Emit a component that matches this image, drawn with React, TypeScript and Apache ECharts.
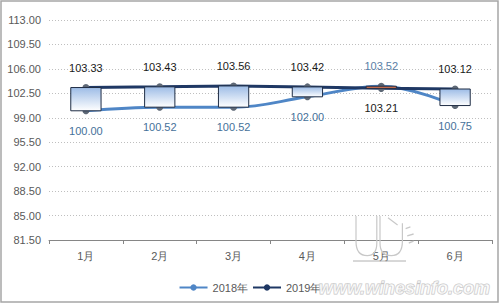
import React, { useEffect, useRef } from "react";
import * as echarts from "echarts";

const categories = ["1月", "2月", "3月", "4月", "5月", "6月"];
const values2018 = [100.0, 100.52, 100.52, 102.0, 103.52, 100.75];
const values2019 = [103.33, 103.43, 103.56, 103.42, 103.21, 103.12];
const seriesNames = ["2018年", "2019年"];
const yMin = 81.5;
const yMax = 113;
const yStep = 3.5;

let shapeRegistered = false;
function registerLogo() {
  if (shapeRegistered) return;
  shapeRegistered = true;
  echarts.graphic.registerShape(
    "wineLogo",
    echarts.graphic.extendPath(
      "M0,0 L0,28 Q0,44 14,44 Q26,44 26,30 L26,0 M30,0 L30,30 Q30,44 44,44 Q58,44 58,28 L58,8 M40,2 L52,10 M62,14 L68,12 M64,22 L72,20 M66,30 L72,28",
      {}
    )
  );
}

export default function App() {
  const ref = useRef<HTMLDivElement>(null);
  useEffect(() => {
    if (!ref.current) return;
    registerLogo();
    const chart = echarts.init(ref.current, null, { renderer: "svg" });
    const boxData = categories.map((_, i) => [i, values2018[i], values2019[i]]);
    const upFill = new echarts.graphic.LinearGradient(0, 0, 0, 1, [
      { offset: 0, color: "#9dbce6" },
      { offset: 1, color: "#ffffff" },
    ]);
    const markerColor = "#5e6876";
    const option: any = {
      animation: false,
      textStyle: { fontFamily: "Liberation Sans, Arial, sans-serif" },
      grid: { left: 49, right: 8, top: 20, bottom: 64 },
      legend: {
        data: seriesNames,
        left: "center",
        top: 277,
        itemGap: 4,
        itemWidth: 28,
        itemHeight: 8,
        textStyle: { fontSize: 11, color: "#595959" },
      },
      xAxis: {
        type: "category",
        data: categories,
        boundaryGap: true,
        axisLine: { lineStyle: { color: "#868686", width: 1 } },
        axisTick: { show: true, length: 4, lineStyle: { color: "#868686" } },
        axisLabel: { fontSize: 11, color: "#595959", margin: 10 },
      },
      yAxis: {
        type: "value",
        min: yMin,
        max: yMax,
        interval: yStep,
        axisLine: { show: false },
        axisTick: { show: false },
        axisLabel: {
          fontSize: 11,
          color: "#595959",
          margin: 8,
          formatter: (v: number) => v.toFixed(2),
        },
        splitLine: { lineStyle: { color: "#bfbfbf", type: [1, 2], width: 1 } },
      },
      series: [
        {
          name: seriesNames[0],
          type: "line",
          smooth: 0.4,
          z: 2,
          symbol: "circle",
          symbolSize: 7,
          lineStyle: { color: "#4f86c6", width: 3 },
          itemStyle: { color: "#4f86c6" },
          data: values2018.map((v, i) => ({
            value: v,
            itemStyle: { color: markerColor },
            label: {
              show: true,
              position: i === 4 ? "top" : "bottom",
              distance: 11,
              color: i === 4 ? "#5a80a6" : "#46719a",
              fontSize: 11,
              formatter: (p: any) => Number(p.value).toFixed(2),
            },
          })),
        },
        {
          name: seriesNames[1],
          type: "line",
          z: 2,
          symbol: "circle",
          symbolSize: 7,
          lineStyle: { color: "#1f3864", width: 3 },
          itemStyle: { color: "#1f3864" },
          data: values2019.map((v, i) => ({
            value: v,
            itemStyle: { color: markerColor },
            label: {
              show: true,
              position: i === 4 ? "bottom" : "top",
              distance: 11,
              color: "#1a1a1a",
              fontSize: 11,
              formatter: (p: any) => Number(p.value).toFixed(2),
            },
          })),
        },
        {
          name: "updown",
          type: "custom",
          z: 5,
          encode: { x: 0, y: [1, 2] },
          data: boxData,
          renderItem: (params: any, api: any) => {
            const i = api.value(0);
            const a = api.value(1);
            const b = api.value(2);
            const top = api.coord([i, Math.max(a, b)]);
            const bot = api.coord([i, Math.min(a, b)]);
            const w = api.size([1, 0])[0] * 0.41;
            return {
              type: "rect",
              shape: {
                x: top[0] - w / 2,
                y: top[1],
                width: w,
                height: Math.max(bot[1] - top[1], 1),
              },
              style: {
                fill: b >= a ? upFill : "#d9734e",
                stroke: "#1f2d45",
                lineWidth: 1,
              },
            };
          },
        },
      ],
      graphic: [
        {
          type: "rect",
          shape: { x: 1, y: 1, width: 497, height: 301 },
          style: { fill: "none", stroke: "#a6a6a6", lineWidth: 1.5 },
          silent: true,
        },
        {
          type: "wineLogo",
          x: 356,
          y: 216,
          scaleX: 0.8,
          scaleY: 0.9,
          style: { fill: "none", stroke: "#c8c8c8", lineWidth: 1.5 },
          silent: true,
          z: 10,
        },
        {
          type: "line",
          shape: { x1: 353, y1: 261, x2: 406, y2: 261 },
          style: { stroke: "#b0b0b0", lineWidth: 1 },
          silent: true,
          z: 10,
        },
        {
          type: "text",
          x: 490,
          y: 288,
          style: {
            text: "www.winesinfo.com",
            fontSize: 18,
            fontWeight: "bold",
            fontStyle: "italic",
            fontFamily: "Liberation Sans, Arial, sans-serif",
            fill: "rgba(255,255,255,0.6)",
            stroke: "#c4c4c4",
            lineWidth: 1,
            align: "right",
            verticalAlign: "middle",
          },
          silent: true,
          z: 10,
        },
      ],
    };
    chart.setOption(option);
    return () => chart.dispose();
  }, []);
  return (
    <div
      ref={ref}
      style={{ position: "fixed", left: 0, top: 0, width: 500, height: 304, background: "#fff" }}
    />
  );
}
